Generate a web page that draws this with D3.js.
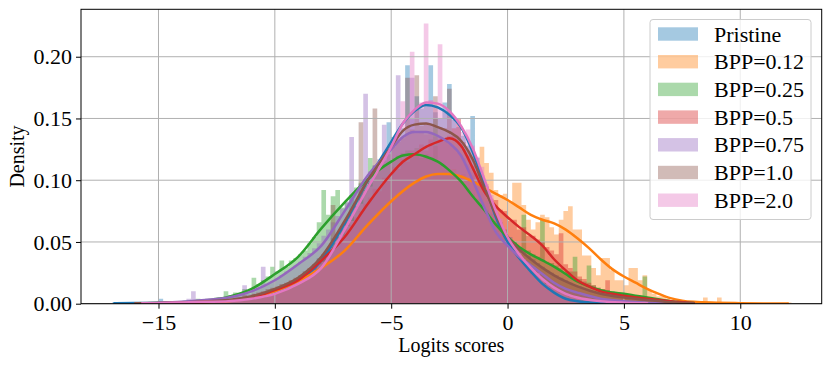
<!DOCTYPE html>
<html>
<head>
<meta charset="utf-8">
<script src="https://cdn.jsdelivr.net/npm/d3@7"></script>
<style>
  body { margin: 0; background: #fff; }
  svg text { font-family: "Liberation Serif", "Times New Roman", serif; fill: #000; }
</style>
</head>
<body>
<svg id="chart" width="831" height="367"></svg>
<script>
// legend labels and tab10 colours, in drawing order
const seriesNames = ["Pristine", "BPP=0.12", "BPP=0.25", "BPP=0.5", "BPP=0.75", "BPP=1.0", "BPP=2.0"];
const seriesColors = ["#1f77b4", "#ff7f0e", "#2ca02c", "#d62728", "#9467bd", "#8c564b", "#e377c2"];

const xTicks = [-15, -10, -5, 0, 5, 10];
const yTicks = [0, 0.05, 0.10, 0.15, 0.20];

// common bins (width 0.2), each row = one unit of x
const BIN_WIDTH = 0.2;
const binStarts = [-17, -14, -16, -15, -15, -16, -16];

const histPristine = [
  0.001, 0, 0, 0, 0,
  0, 0, 0, 0, 0,
  0.004, 0, 0, 0, 0.001,
  0, 0, 0.001, 0, 0.001,
  0.001, 0, 0.002, 0.001, 0.002,
  0.003, 0.002, 0.004, 0.003, 0.005,
  0.004, 0.006, 0.007, 0.008, 0.010,
  0.009, 0.013, 0.012, 0.017, 0.019,
  0.021, 0.026, 0.027, 0.031, 0.037,
  0.040, 0.044, 0.053, 0.055, 0.062,
  0.068, 0.087, 0.079, 0.091, 0.096,
  0.103, 0.112, 0.108, 0.121, 0.147,
  0.135, 0.133, 0.142, 0.193, 0.150,
  0.168, 0.158, 0.160, 0.193, 0.155,
  0.150, 0.163, 0.178, 0.149, 0.143,
  0.136, 0.128, 0.152, 0.118, 0.104,
  0.095, 0.081, 0.071, 0.061, 0.056,
  0.049, 0.043, 0.037, 0.033, 0.027,
  0.024, 0.019, 0.016, 0.012, 0.010,
  0.008, 0.005, 0.004, 0.003, 0.002,
  0.002, 0.001, 0.001, 0, 0.001
];
const hist012 = [
  0.001, 0, 0, 0.001, 0,
  0.001, 0.001, 0, 0.002, 0.001,
  0.002, 0.003, 0.002, 0.004, 0.005,
  0.004, 0.007, 0.006, 0.009, 0.010,
  0.011, 0.012, 0.015, 0.016, 0.018,
  0.017, 0.021, 0.024, 0.026, 0.027,
  0.030, 0.034, 0.035, 0.039, 0.041,
  0.046, 0.050, 0.054, 0.060, 0.062,
  0.068, 0.071, 0.076, 0.079, 0.082,
  0.085, 0.089, 0.092, 0.095, 0.097,
  0.100, 0.101, 0.104, 0.102, 0.106,
  0.103, 0.108, 0.104, 0.109, 0.102,
  0.105, 0.100, 0.104, 0.098, 0.127,
  0.114, 0.106, 0.092, 0.088, 0.089,
  0.083, 0.098, 0.098, 0.080, 0.068,
  0.060, 0.066, 0.072, 0.070, 0.062,
  0.056, 0.068, 0.075, 0.079, 0.060,
  0.060, 0.039, 0.039, 0.029, 0.023,
  0.037, 0.037, 0.027, 0.019, 0.019,
  0.015, 0.029, 0.029, 0.019, 0.023,
  0.011, 0.008, 0.006, 0.006, 0.004,
  0.003, 0.002, 0.002, 0.001, 0.001,
  0.001, 0, 0.005, 0, 0,
  0.005, 0, 0, 0, 0,
  0.001, 0, 0, 0, 0,
  0, 0, 0, 0, 0,
  0.001
];
const hist025 = [
  0, 0, 0.001, 0, 0,
  0.001, 0, 0.001, 0, 0.002,
  0, 0.002, 0.001, 0.004, 0.003,
  0.004, 0.003, 0.005, 0.004, 0.010,
  0.007, 0.009, 0.008, 0.012, 0.011,
  0.021, 0.016, 0.019, 0.022, 0.030,
  0.026, 0.035, 0.030, 0.035, 0.037,
  0.040, 0.043, 0.049, 0.054, 0.066,
  0.092, 0.072, 0.087, 0.092, 0.078,
  0.082, 0.088, 0.094, 0.098, 0.101,
  0.118, 0.106, 0.110, 0.113, 0.115,
  0.118, 0.120, 0.122, 0.124, 0.120,
  0.126, 0.118, 0.121, 0.119, 0.150,
  0.113, 0.110, 0.108, 0.104, 0.101,
  0.097, 0.094, 0.089, 0.085, 0.081,
  0.076, 0.073, 0.067, 0.062, 0.058,
  0.054, 0.050, 0.046, 0.072, 0.043,
  0.040, 0.038, 0.068, 0.034, 0.033,
  0.031, 0.029, 0.026, 0.026, 0.038,
  0.020, 0.018, 0.031, 0.015, 0.013,
  0.012, 0.011, 0.010, 0.008, 0.008,
  0.008, 0.007, 0.007, 0.006, 0.022,
  0.005, 0.004, 0.003, 0.003, 0.002,
  0.002, 0.001, 0.001, 0, 0.001
];
const hist05 = [
  0, 0.001, 0, 0, 0.001,
  0, 0.001, 0.001, 0, 0.001,
  0.002, 0.001, 0.002, 0.002, 0.003,
  0.002, 0.003, 0.004, 0.005, 0.005,
  0.006, 0.007, 0.009, 0.010, 0.011,
  0.012, 0.014, 0.016, 0.018, 0.020,
  0.022, 0.024, 0.027, 0.030, 0.034,
  0.037, 0.042, 0.046, 0.050, 0.055,
  0.060, 0.064, 0.070, 0.075, 0.081,
  0.086, 0.093, 0.091, 0.102, 0.101,
  0.111, 0.109, 0.117, 0.115, 0.124,
  0.120, 0.129, 0.124, 0.133, 0.128,
  0.133, 0.134, 0.136, 0.142, 0.150,
  0.125, 0.120, 0.112, 0.105, 0.098,
  0.094, 0.085, 0.084, 0.076, 0.075,
  0.067, 0.068, 0.060, 0.062, 0.055,
  0.055, 0.052, 0.050, 0.046, 0.043,
  0.040, 0.057, 0.032, 0.029, 0.026,
  0.022, 0.020, 0.017, 0.015, 0.013,
  0.012, 0.019, 0.009, 0.008, 0.007,
  0.006, 0.006, 0.005, 0.005, 0.004,
  0.004, 0.003, 0.003, 0.002, 0.002,
  0.001, 0.001, 0.001, 0, 0.001
];
const hist075 = [
  0, 0.001, 0, 0.001, 0,
  0.001, 0.004, 0.010, 0.003, 0.002,
  0.003, 0.002, 0.004, 0.003, 0.005,
  0.004, 0.006, 0.007, 0.015, 0.008,
  0.010, 0.012, 0.030, 0.016, 0.018,
  0.020, 0.023, 0.026, 0.028, 0.031,
  0.034, 0.038, 0.041, 0.045, 0.049,
  0.055, 0.060, 0.066, 0.071, 0.077,
  0.083, 0.135, 0.092, 0.097, 0.170,
  0.107, 0.112, 0.117, 0.145, 0.124,
  0.128, 0.185, 0.134, 0.137, 0.183,
  0.138, 0.139, 0.137, 0.138, 0.135,
  0.134, 0.131, 0.129, 0.126, 0.122,
  0.118, 0.113, 0.106, 0.099, 0.090,
  0.083, 0.074, 0.066, 0.058, 0.052,
  0.047, 0.043, 0.039, 0.035, 0.032,
  0.030, 0.027, 0.024, 0.021, 0.018,
  0.016, 0.014, 0.012, 0.010, 0.009,
  0.008, 0.007, 0.006, 0.005, 0.004,
  0.003, 0.003, 0.002, 0.002, 0.002,
  0.001, 0.001, 0.001, 0, 0.001,
  0, 0, 0.001, 0, 0
];
const hist10 = [
  0.001, 0, 0, 0, 0.001,
  0, 0, 0.001, 0, 0.001,
  0.001, 0, 0.001, 0.002, 0.001,
  0.002, 0.003, 0.002, 0.003, 0.004,
  0.004, 0.005, 0.005, 0.007, 0.006,
  0.008, 0.009, 0.010, 0.012, 0.013,
  0.014, 0.016, 0.017, 0.019, 0.021,
  0.023, 0.026, 0.029, 0.032, 0.036,
  0.040, 0.045, 0.080, 0.054, 0.060,
  0.066, 0.072, 0.079, 0.147, 0.092,
  0.098, 0.158, 0.110, 0.116, 0.121,
  0.127, 0.131, 0.135, 0.183, 0.141,
  0.185, 0.144, 0.146, 0.145, 0.168,
  0.143, 0.142, 0.174, 0.136, 0.134,
  0.131, 0.124, 0.119, 0.110, 0.101,
  0.092, 0.082, 0.073, 0.066, 0.060,
  0.054, 0.050, 0.046, 0.043, 0.039,
  0.036, 0.033, 0.030, 0.027, 0.025,
  0.023, 0.021, 0.019, 0.017, 0.015,
  0.014, 0.012, 0.011, 0.010, 0.009,
  0.008, 0.007, 0.007, 0.006, 0.005,
  0.005, 0.004, 0.004, 0.003, 0.003,
  0.003, 0.002, 0.002, 0.002, 0.001,
  0.001, 0.001, 0, 0.001, 0
];
const hist20 = [
  0, 0.001, 0, 0, 0,
  0, 0, 0.001, 0, 0,
  0.001, 0.002, 0, 0.001, 0.002,
  0.001, 0.002, 0.001, 0.002, 0.003,
  0.002, 0.003, 0.004, 0.003, 0.005,
  0.004, 0.006, 0.005, 0.008, 0.009,
  0.010, 0.011, 0.014, 0.013, 0.017,
  0.019, 0.021, 0.026, 0.027, 0.032,
  0.034, 0.041, 0.045, 0.052, 0.055,
  0.063, 0.067, 0.078, 0.081, 0.091,
  0.095, 0.105, 0.109, 0.119, 0.122,
  0.131, 0.139, 0.164, 0.150, 0.204,
  0.156, 0.163, 0.227, 0.165, 0.160,
  0.210, 0.157, 0.155, 0.149, 0.147,
  0.139, 0.141, 0.128, 0.119, 0.111,
  0.097, 0.088, 0.075, 0.069, 0.057,
  0.054, 0.046, 0.041, 0.036, 0.032,
  0.027, 0.025, 0.020, 0.016, 0.014,
  0.012, 0.009, 0.008, 0.006, 0.005,
  0.004, 0.003, 0.003, 0.002, 0.002,
  0.001, 0.001, 0, 0.001, 0,
  0.001
];

// KDE curves as [x, density]
const kdePristine = [[-16.9,0.0003],[-16,0.0005],[-15,0.0008],[-14,0.001],[-13,0.0015],[-12,0.0025],[-11,0.0045],[-10,0.009],[-9,0.018],[-8,0.035],[-7,0.065],[-6,0.100],[-5,0.131],[-4.5,0.146],[-4,0.156],[-3.5,0.161],[-3,0.159],[-2.5,0.153],[-2,0.143],[-1.5,0.123],[-1,0.097],[-0.5,0.070],[0,0.050],[0.5,0.037],[1,0.026],[1.5,0.016],[2,0.009],[2.5,0.004],[3,0.002],[4,0.0006],[5,0.0002],[6,0.0001]];
const kde012 = [[-13.9,0.0004],[-13,0.001],[-12,0.002],[-11,0.005],[-10,0.010],[-9,0.018],[-8,0.029],[-7,0.043],[-6,0.064],[-5,0.083],[-4,0.098],[-3.5,0.103],[-3,0.105],[-2.5,0.105],[-2,0.103],[-1.5,0.099],[-1,0.094],[-0.5,0.089],[0,0.084],[0.5,0.078],[1,0.072],[1.5,0.068],[2,0.065],[2.5,0.060],[3,0.053],[3.5,0.045],[4,0.036],[4.5,0.028],[5,0.022],[5.5,0.017],[6,0.012],[6.5,0.008],[7,0.0045],[7.5,0.0025],[8,0.0015],[9,0.0008],[10,0.0004],[11,0.0002],[12.05,0.0001]];
const kde025 = [[-15.5,0.0003],[-15,0.0006],[-14,0.0012],[-13,0.0025],[-12,0.0055],[-11,0.012],[-10,0.024],[-9,0.038],[-8,0.061],[-7,0.082],[-6,0.101],[-5,0.115],[-4.5,0.120],[-4,0.121],[-3.5,0.119],[-3,0.115],[-2.5,0.108],[-2,0.099],[-1.5,0.087],[-1,0.076],[-0.5,0.064],[0,0.054],[0.5,0.046],[1,0.040],[1.5,0.035],[2,0.030],[2.5,0.024],[3,0.018],[3.5,0.014],[4,0.011],[4.5,0.009],[5,0.008],[5.5,0.0065],[6,0.005],[7,0.002],[8,0.0005]];
const kde05 = [[-15,0.0003],[-14,0.0006],[-13,0.0012],[-12,0.0025],[-11,0.005],[-10,0.011],[-9,0.019],[-8,0.035],[-7,0.054],[-6,0.081],[-5,0.105],[-4.5,0.115],[-4,0.121],[-3.5,0.127],[-3,0.131],[-2.5,0.134],[-2,0.128],[-1.5,0.110],[-1,0.091],[-0.5,0.079],[0,0.070],[0.5,0.062],[1,0.055],[1.5,0.047],[2,0.036],[2.5,0.027],[3,0.019],[3.5,0.014],[4,0.010],[4.5,0.008],[5,0.0065],[6,0.004],[7,0.002],[8,0.0005]];
const kde075 = [[-15,0.0008],[-14,0.0015],[-13,0.003],[-12,0.005],[-11,0.010],[-10,0.019],[-9,0.032],[-8,0.047],[-7,0.075],[-6,0.104],[-5,0.125],[-4.5,0.135],[-4,0.139],[-3.5,0.139],[-3,0.136],[-2.5,0.130],[-2,0.120],[-1.5,0.100],[-1,0.078],[-0.5,0.058],[0,0.047],[0.5,0.038],[1,0.031],[1.5,0.024],[2,0.017],[2.5,0.012],[3,0.009],[4,0.004],[5,0.002],[6,0.0008],[7,0.0002]];
const kde10 = [[-16,0.0003],[-15,0.0006],[-14,0.001],[-13,0.002],[-12,0.003],[-11,0.006],[-10,0.012],[-9,0.021],[-8,0.038],[-7,0.067],[-6,0.100],[-5,0.127],[-4.5,0.140],[-4,0.145],[-3.5,0.146],[-3,0.143],[-2.5,0.139],[-2,0.132],[-1.5,0.117],[-1,0.094],[-0.5,0.072],[0,0.054],[0.5,0.044],[1,0.036],[1.5,0.029],[2,0.023],[2.5,0.018],[3,0.014],[4,0.008],[5,0.005],[6,0.003],[7,0.0012],[8,0.0003]];
const kde20 = [[-15.7,0.0003],[-15,0.0005],[-14,0.001],[-13,0.0015],[-12,0.002],[-11,0.004],[-10,0.008],[-9,0.016],[-8,0.029],[-7,0.060],[-6,0.094],[-5,0.127],[-4.5,0.146],[-4,0.157],[-3.5,0.163],[-3,0.162],[-2.5,0.156],[-2,0.144],[-1.5,0.126],[-1,0.101],[-0.5,0.075],[0,0.054],[0.5,0.040],[1,0.029],[1.5,0.020],[2,0.013],[2.5,0.008],[3,0.005],[4,0.002],[5,0.0008],[6,0.0003]];

const hists = [histPristine, hist012, hist025, hist05, hist075, hist10, hist20];
const kdes = [kdePristine, kde012, kde025, kde05, kde075, kde10, kde20];

const W = 831, H = 367;
const plot = {left: 81, right: 821.7, top: 9.3, bottom: 303.7};

const svg = d3.select("#chart");

const x = d3.scaleLinear().domain([-18.33, 13.5]).range([plot.left, plot.right]);
const y = d3.scaleLinear().domain([0, 0.2384]).range([plot.bottom, plot.top]);

svg.append("clipPath").attr("id", "plotClip")
  .append("rect")
  .attr("x", plot.left).attr("y", plot.top)
  .attr("width", plot.right - plot.left).attr("height", plot.bottom - plot.top);

// histograms (step areas, one per series)
const histLayer = svg.append("g").attr("clip-path", "url(#plotClip)");
const stepArea = d3.area()
  .curve(d3.curveStepAfter)
  .x(d => x(d[0]))
  .y0(y(0))
  .y1(d => y(d[1]));

hists.forEach((h, s) => {
  const pts = h.map((v, i) => [binStarts[s] + i * BIN_WIDTH, v]);
  pts.push([binStarts[s] + h.length * BIN_WIDTH, h[h.length - 1]]);
  histLayer.append("path")
    .attr("d", stepArea(pts))
    .attr("fill", seriesColors[s])
    .attr("fill-opacity", 0.4);
});

// grid above bars, below lines (matplotlib zorder)
const grid = svg.append("g");
grid.selectAll(".gx").data(xTicks).join("line")
  .attr("x1", d => x(d)).attr("x2", d => x(d))
  .attr("y1", plot.top).attr("y2", plot.bottom)
  .attr("stroke", "#b0b0b0").attr("stroke-width", 1);
grid.selectAll(".gy").data(yTicks).join("line")
  .attr("x1", plot.left).attr("x2", plot.right)
  .attr("y1", d => y(d)).attr("y2", d => y(d))
  .attr("stroke", "#b0b0b0").attr("stroke-width", 1);

// KDE lines
const kdeLine = d3.line()
  .curve(d3.curveMonotoneX)
  .x(d => x(d[0]))
  .y(d => y(d[1]));
const lineLayer = svg.append("g").attr("clip-path", "url(#plotClip)");
kdes.forEach((k, s) => {
  lineLayer.append("path")
    .attr("d", kdeLine(k))
    .attr("fill", "none")
    .attr("stroke", seriesColors[s])
    .attr("stroke-width", 2.5)
    .attr("stroke-linecap", "round");
});

// axes
const xAxis = svg.append("g")
  .attr("transform", `translate(0,${plot.bottom})`)
  .call(d3.axisBottom(x).tickValues(xTicks).tickSize(5).tickPadding(6));
const yAxis = svg.append("g")
  .attr("transform", `translate(${plot.left},0)`)
  .call(d3.axisLeft(y).tickValues(yTicks).tickFormat(d3.format(".2f")).tickSize(5).tickPadding(4));
[xAxis, yAxis].forEach(a => {
  a.select(".domain").remove();
  a.selectAll(".tick line").attr("stroke", "#000").attr("stroke-width", 1);
  a.selectAll(".tick text").style("font-size", "22px").attr("fill", "#000");
});
yAxis.selectAll(".tick text").attr("dy", "0.33em");

// spines
svg.append("rect")
  .attr("x", plot.left).attr("y", plot.top)
  .attr("width", plot.right - plot.left).attr("height", plot.bottom - plot.top)
  .attr("fill", "none").attr("stroke", "#000").attr("stroke-width", 1);

// axis labels
svg.append("text")
  .attr("x", (plot.left + plot.right) / 2).attr("y", 352)
  .attr("text-anchor", "middle").style("font-size", "20px")
  .text("Logits scores");
svg.append("text")
  .attr("transform", `translate(24,${(plot.top + plot.bottom) / 2}) rotate(-90)`)
  .attr("text-anchor", "middle").style("font-size", "20px")
  .text("Density");

// legend
const legend = svg.append("g");
legend.append("rect")
  .attr("x", 650).attr("y", 19.5).attr("width", 161).attr("height", 200)
  .attr("rx", 3)
  .attr("fill", "#fff").attr("fill-opacity", 0.8)
  .attr("stroke", "#cccccc").attr("stroke-width", 1);
seriesNames.forEach((name, i) => {
  const row = legend.append("g").attr("transform", `translate(0,${i * 27.7})`);
  row.append("rect")
    .attr("x", 658).attr("y", 27.3).attr("width", 40).attr("height", 13.4)
    .attr("fill", seriesColors[i]).attr("fill-opacity", 0.4);
  row.append("text")
    .attr("x", 714).attr("y", 41.5)
    .style("font-size", "22px")
    .text(name);
});
</script>
</body>
</html>
